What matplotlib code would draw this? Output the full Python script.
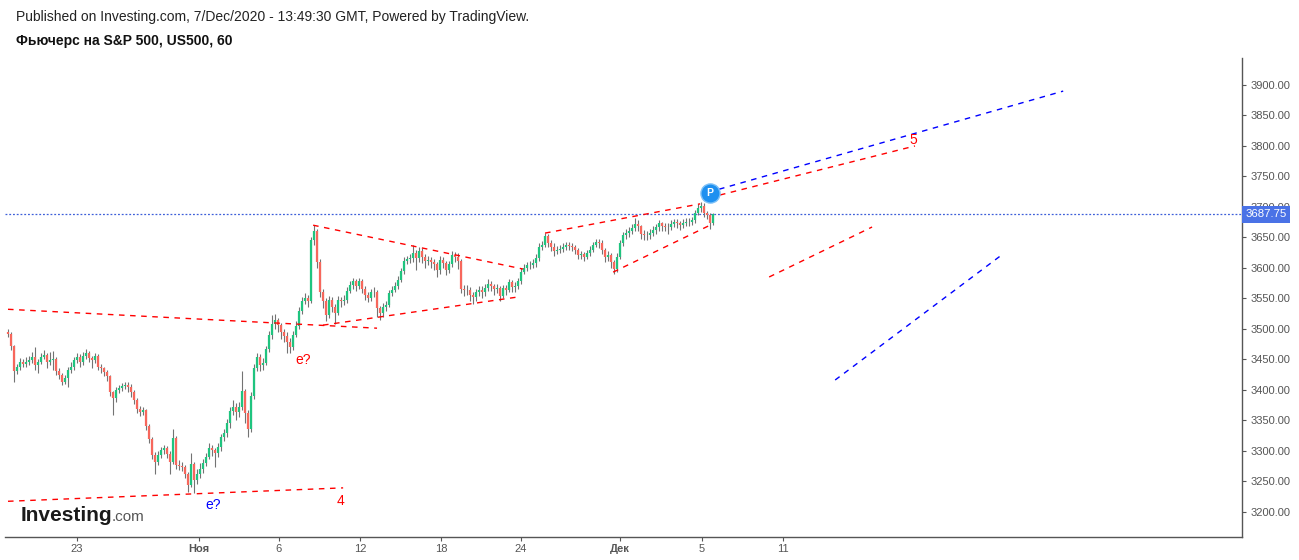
import numpy as np
import matplotlib
matplotlib.use('Agg')
import matplotlib.pyplot as plt

plt.rcParams['font.family'] = ['Liberation Sans', 'DejaVu Sans']

# hourly S&P 500 futures (one bar per ~3 px)
first_open = 3495
closes = [
    3492, 3472, 3431, 3437, 3446, 3443, 3446, 3449, 3454, 3440,
    3446, 3454, 3457, 3445, 3449, 3451, 3430, 3425, 3413, 3419,
    3432, 3438, 3449, 3453, 3446, 3456, 3460, 3452, 3449, 3455,
    3437, 3435, 3429, 3422, 3396, 3386, 3400, 3403, 3406, 3408,
    3405, 3396, 3383, 3369, 3364, 3366, 3341, 3320, 3293, 3282,
    3293, 3301, 3304, 3295, 3282, 3321, 3277, 3275, 3273, 3262,
    3244, 3278, 3252, 3262, 3270, 3280, 3290, 3305, 3301, 3296,
    3306, 3322, 3329, 3345, 3365, 3372, 3364, 3372, 3398, 3362,
    3335, 3390, 3436, 3454, 3440, 3444, 3467, 3490, 3508, 3514,
    3506, 3495, 3488, 3478, 3470, 3490, 3504, 3530, 3545, 3550,
    3545, 3645, 3660, 3610, 3560, 3545, 3522, 3548, 3536, 3526,
    3548, 3545, 3547, 3562, 3572, 3578, 3570, 3578, 3566, 3555,
    3551, 3560, 3561, 3534, 3526, 3536, 3539, 3559, 3564, 3570,
    3580, 3595, 3612, 3614, 3616, 3625, 3616, 3628, 3618, 3611,
    3613, 3610, 3606, 3596, 3613, 3608, 3597, 3606, 3621, 3618,
    3612, 3566, 3563, 3564, 3555, 3552, 3560, 3564, 3560, 3567,
    3574, 3570, 3566, 3567, 3553, 3567, 3564, 3576, 3569, 3570,
    3578, 3594, 3600, 3604, 3605, 3608, 3616, 3634, 3638, 3652,
    3641, 3635, 3627, 3630, 3631, 3635, 3637, 3636, 3634, 3629,
    3621, 3622, 3618, 3624, 3630, 3638, 3642, 3641, 3629, 3618,
    3621, 3610, 3598, 3618, 3641, 3654, 3657, 3661, 3666, 3672,
    3668, 3656, 3654, 3654, 3657, 3662, 3667, 3673, 3668, 3667,
    3667, 3672, 3675, 3674, 3670, 3674, 3675, 3676, 3678, 3690,
    3698, 3702, 3690, 3687, 3673, 3687.75]
highs = [
    3500, 3495, 3474, 3442, 3452, 3450, 3453, 3455, 3462, 3470,
    3450, 3460, 3466, 3460, 3462, 3464, 3454, 3436, 3428, 3425,
    3438, 3446, 3454, 3460, 3458, 3462, 3467, 3464, 3456, 3461,
    3458, 3442, 3437, 3432, 3425, 3398, 3404, 3408, 3411, 3413,
    3412, 3409, 3399, 3386, 3374, 3372, 3369, 3344, 3323, 3298,
    3299, 3306, 3309, 3307, 3299, 3336, 3324, 3284, 3281, 3276,
    3265, 3296, 3282, 3270, 3280, 3286, 3297, 3312, 3310, 3304,
    3312, 3327, 3336, 3352, 3372, 3383, 3378, 3380, 3430, 3402,
    3366, 3396, 3442, 3460, 3458, 3452, 3472, 3496, 3522, 3524,
    3518, 3510, 3500, 3494, 3485, 3496, 3512, 3536, 3552, 3558,
    3556, 3650, 3670, 3664, 3615, 3565, 3550, 3554, 3552, 3540,
    3553, 3552, 3555, 3568, 3578, 3583, 3582, 3584, 3581, 3570,
    3560, 3566, 3568, 3564, 3538, 3542, 3546, 3564, 3570, 3576,
    3586, 3600, 3618, 3620, 3622, 3637, 3630, 3634, 3632, 3622,
    3620, 3618, 3614, 3610, 3620, 3618, 3612, 3612, 3627, 3626,
    3624, 3615, 3572, 3572, 3568, 3560, 3566, 3570, 3570, 3574,
    3582, 3578, 3574, 3574, 3570, 3572, 3572, 3582, 3580, 3576,
    3584, 3600, 3606, 3610, 3612, 3614, 3622, 3640, 3644, 3657,
    3655, 3646, 3640, 3636, 3638, 3641, 3642, 3642, 3640, 3638,
    3632, 3628, 3626, 3630, 3636, 3643, 3648, 3647, 3645, 3632,
    3628, 3625, 3613, 3624, 3646, 3659, 3663, 3667, 3672, 3682,
    3678, 3671, 3662, 3660, 3663, 3668, 3672, 3678, 3676, 3674,
    3673, 3678, 3680, 3680, 3677, 3680, 3681, 3682, 3684, 3695,
    3704, 3708, 3706, 3694, 3690, 3690]
lows = [
    3486, 3466, 3412, 3426, 3433, 3437, 3438, 3440, 3444, 3432,
    3428, 3442, 3450, 3436, 3440, 3433, 3425, 3418, 3408, 3410,
    3404, 3428, 3433, 3444, 3438, 3440, 3450, 3445, 3436, 3444,
    3432, 3427, 3422, 3415, 3390, 3359, 3380, 3394, 3398, 3401,
    3396, 3388, 3376, 3362, 3357, 3358, 3334, 3312, 3286, 3262,
    3276, 3288, 3295, 3288, 3262, 3278, 3270, 3268, 3266, 3256,
    3232, 3240, 3231, 3245, 3256, 3264, 3275, 3286, 3292, 3273,
    3290, 3300, 3316, 3322, 3338, 3358, 3350, 3355, 3366, 3345,
    3322, 3330, 3385, 3430, 3430, 3433, 3440, 3462, 3484, 3500,
    3494, 3484, 3478, 3460, 3460, 3466, 3486, 3500, 3524, 3540,
    3536, 3542, 3638, 3600, 3552, 3534, 3512, 3518, 3528, 3508,
    3522, 3536, 3539, 3543, 3558, 3566, 3562, 3565, 3558, 3548,
    3544, 3546, 3552, 3520, 3515, 3520, 3530, 3535, 3554, 3560,
    3566, 3576, 3590, 3606, 3608, 3610, 3596, 3610, 3608, 3600,
    3604, 3600, 3596, 3585, 3590, 3600, 3588, 3592, 3602, 3610,
    3598, 3558, 3554, 3556, 3545, 3540, 3546, 3554, 3550, 3554,
    3562, 3562, 3556, 3558, 3545, 3550, 3555, 3560, 3560, 3560,
    3565, 3574, 3590, 3595, 3598, 3600, 3602, 3612, 3630, 3634,
    3634, 3628, 3620, 3622, 3624, 3626, 3630, 3630, 3628, 3622,
    3614, 3615, 3612, 3614, 3620, 3626, 3634, 3632, 3622, 3610,
    3612, 3600, 3590, 3594, 3614, 3636, 3648, 3650, 3655, 3660,
    3660, 3648, 3646, 3646, 3648, 3652, 3656, 3660, 3660, 3660,
    3655, 3662, 3667, 3666, 3662, 3665, 3668, 3668, 3670, 3674,
    3686, 3692, 3684, 3680, 3664, 3670]

last_price = 3687.75

# date axis (bar positions of the labels)
tick_pos = [23.0, 63.7, 90.3, 117.3, 144.3, 171.0, 204.0, 231.3, 258.3]
tick_labels = ['23', 'Ноя', '6', '12', '18', '24', 'Дек', '5', '11']
month_labels = ['Ноя', 'Дек']
price_ticks = list(range(3200, 3901, 50))

# hand-drawn trend lines: (x0, y0, x1, y1)
red_lines = [
    (0, 3532, 123, 3501),
    (0, 3217, 111.7, 3239),
    (101.7, 3670, 171.7, 3598),
    (105, 3506, 169.7, 3552),
    (179, 3657, 230.7, 3705),
    (201.7, 3593, 234, 3670),
    (237.3, 3719.5, 302.3, 3800),
    (253.7, 3585, 288, 3667),
]
blue_lines = [
    (237, 3729, 351.7, 3890),
    (275.7, 3416, 331.7, 3623),
]
# wave labels: (x, y, text, colour)
wave_labels = [
    (98.3, 3449, 'e?', '#ff0000'),
    (68.3, 3211, 'e?', '#0000ff'),
    (110.7, 3217, '4', '#ff0000'),
    (301.7, 3810, '5', '#ff0000'),
]
p_marker = (234, 3722.8)

opens = [first_open] + closes[:-1]
x = np.arange(len(closes))
o = np.array(opens)
c = np.array(closes)
up = c >= o

fig = plt.figure(figsize=(12.99, 5.6), dpi=100)
ax = fig.add_axes([5 / 1299, 1 - 537 / 560, (1242 - 5) / 1299, (537 - 58) / 560])

ax.vlines(x, lows, highs, color='#737373', lw=0.8, zorder=2)
ax.vlines(x[up], o[up], c[up], color='#1fc47f', lw=1.6, zorder=3)
ax.vlines(x[~up], o[~up], c[~up], color='#f7675c', lw=1.6, zorder=3)

for x0, y0, x1, y1 in red_lines:
    ax.plot([x0, x1], [y0, y1], color='#ff0000', lw=1.0, dashes=(4, 4), zorder=4)
for x0, y0, x1, y1 in blue_lines:
    ax.plot([x0, x1], [y0, y1], color='#0000ff', lw=1.0, dashes=(4, 4), zorder=4)

for lx, ly, txt, col in wave_labels:
    ax.text(lx, ly, txt, color=col, fontsize=10, ha='center', va='center', zorder=5)

ax.scatter([p_marker[0]], [p_marker[1]], s=190, color='#1e90f0', edgecolors='#7cc0f7',
           linewidths=1.0, zorder=6)
ax.text(p_marker[0], p_marker[1], 'P', color='white', fontsize=7.5, fontweight='bold',
        ha='center', va='center', zorder=7)

ax.axhline(last_price, color='#3d5fd9', lw=0.9, ls=(0, (1.5, 1.5)), zorder=1)
ax.text(1.003, last_price, '%.2f' % last_price, transform=ax.get_yaxis_transform(),
        color='white', fontsize=8.2, ha='left', va='center', zorder=10, clip_on=False,
        bbox=dict(boxstyle='square,pad=0.3', fc='#4a72e6', ec='none'))

ax.set_xlim(-1, 411.3)
ax.set_ylim(3158.4, 3944.3)

ax.yaxis.tick_right()
ax.set_yticks(price_ticks)
ax.set_yticklabels(['%.2f' % p for p in price_ticks])
ax.set_xticks(tick_pos)
ax.set_xticklabels(tick_labels)
for lab in ax.get_xticklabels():
    if lab.get_text() in month_labels:
        lab.set_fontweight('bold')
ax.tick_params(axis='both', colors='#555555', labelcolor='#555555', labelsize=8,
               length=3, width=0.8)
ax.tick_params(axis='y', pad=3)
ax.tick_params(axis='x', pad=2)

for side in ['top', 'left']:
    ax.spines[side].set_visible(False)
ax.spines['right'].set_color('#555555')
ax.spines['bottom'].set_color('#555555')
ax.spines['right'].set_linewidth(1.0)
ax.spines['bottom'].set_linewidth(1.0)

fig.text(16 / 1299, 1 - 17 / 560,
         'Published on Investing.com, 7/Dec/2020 - 13:49:30 GMT, Powered by TradingView.',
         fontsize=10, color='#222222', ha='left', va='center')
fig.text(16 / 1299, 1 - 41 / 560, 'Фьючерс на S&P 500, US500, 60',
         fontsize=10, fontweight='bold', color='#111111', ha='left', va='center')

fig.text(21 / 1299, 1 - 521 / 560, 'Investing', fontsize=15, fontweight='bold',
         color='#1a1a1a', ha='left', va='baseline')
fig.text(112 / 1299, 1 - 521 / 560, '.com', fontsize=11, color='#555555',
         ha='left', va='baseline')

fig.savefig('out.png', dpi=100, facecolor='white')
